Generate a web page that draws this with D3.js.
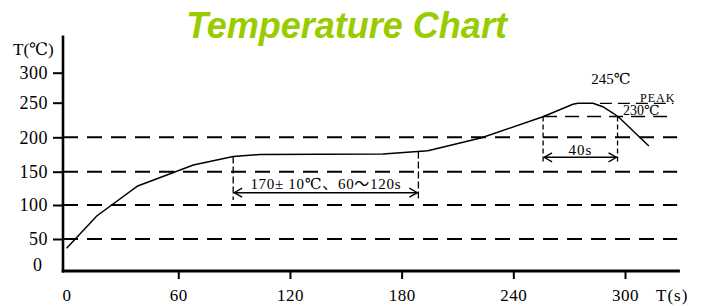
<!DOCTYPE html>
<html>
<head>
<meta charset="utf-8">
<script src="https://cdn.jsdelivr.net/npm/d3@7"></script>
<style>
  body { margin: 0; background: #fff; }
  svg { display: block; }
  .serif { font-family: "Liberation Serif", "DejaVu Serif", "Noto Sans CJK SC", serif; fill: #000; }
</style>
</head>
<body>
<svg id="chart" width="710" height="306"></svg>
<script>
// ---- data ----
const timeS   = [0, 16.2, 38.2, 68.1, 89.5, 103.9, 170, 194.1, 223, 255.9, 272, 274.7, 282.8, 288.1, 293.5, 296.7, 312.8];
const tempC   = [35.5, 83.8, 128.5, 159.7, 172.1, 175, 175.7, 180.5, 199.4, 229.8, 247.7, 249.1, 249.1, 244.2, 235.1, 228.9, 187.4];
const xTicks  = [0, 60, 120, 180, 240, 300];
const yTicks  = [0, 50, 100, 150, 200, 250, 300];
const gridTemps = [50, 100, 150, 200];
const soakWindow = [89.5, 189];      // seconds
const soakTempsAt = [172, 179.5];    // curve temperature at window edges
const reflowWindow = [256, 296];     // seconds (40 s above 230)
const reflowLevel = 230;
const peakLevel = 249;
const titleText = "Temperature Chart";
const soakLabel = "170± 10℃、60～120s";

// ---- scales ----
const svg = d3.select("#chart");
const x = d3.scaleLinear().domain([0, 300]).range([66.6, 625]);
const y = d3.scaleLinear().domain(yTicks).range([271, 239, 205, 171.7, 137.3, 102.7, 72.7]);
const axisX0 = x(0) - 3.6;   // y-axis position
const xEnd = 329.5, yTop = 362;

// markers
const defs = svg.append("defs");
defs.append("marker").attr("id", "arr")
  .attr("viewBox", "-10 -6 12 12").attr("refX", 0).attr("refY", 0)
  .attr("markerWidth", 12).attr("markerHeight", 12).attr("markerUnits", "userSpaceOnUse")
  .attr("orient", "auto-start-reverse")
  .append("path").attr("d", "M-8,-4.5 L0,0 L-8,4.5").attr("fill", "none").attr("stroke", "#000").attr("stroke-width", 1.3);

// title
svg.append("text").attr("x", 346.5).attr("y", 38).attr("text-anchor", "middle")
  .style("font-family", '"Liberation Sans", Arial, sans-serif').style("font-weight", "bold").style("font-style", "italic")
  .style("font-size", "36px").attr("fill", "#99cc00").text(titleText);

// grid dashed lines
svg.append("g").selectAll("line").data(gridTemps).join("line")
  .attr("x1", axisX0).attr("x2", x(xEnd - 1.5))
  .attr("y1", d => y(d)).attr("y2", d => y(d))
  .attr("stroke", "#000").attr("stroke-width", 2).attr("stroke-dasharray", "15,9");

// reflow 230 line and peak line
svg.append("line").attr("x1", x(reflowWindow[0])).attr("x2", x(326))
  .attr("y1", y(reflowLevel)).attr("y2", y(reflowLevel))
  .attr("stroke", "#000").attr("stroke-width", 1.6).attr("stroke-dasharray", "14,8");
svg.append("line").attr("x1", x(286.5)).attr("x2", x(326))
  .attr("y1", y(peakLevel)).attr("y2", y(peakLevel))
  .attr("stroke", "#000").attr("stroke-width", 1.4).attr("stroke-dasharray", "12,6");

// axes
const yAxis = d3.axisLeft(y).tickValues(yTicks.filter(d => d > 0)).tickSize(10).tickPadding(5);
const gy = svg.append("g").attr("transform", `translate(${axisX0},0)`).call(yAxis);
gy.select(".domain").remove();
gy.selectAll(".tick line").attr("stroke-width", 2);
gy.selectAll(".tick text").attr("class", "serif").style("font-size", "18px").style("letter-spacing", "0.5px").attr("fill", "#000");
gy.append("g").attr("class", "tick").append("text").attr("class", "serif")
  .attr("x", -21).attr("y", y(0) - 6).attr("dy", "0.32em").attr("text-anchor", "end")
  .style("font-size", "18px").text("0");

const xAxis = d3.axisBottom(x).tickValues(xTicks).tickSize(8).tickFormat(d3.format("d"));
const gx = svg.append("g").attr("transform", `translate(0,${y(0)})`).call(xAxis);
gx.select(".domain").remove();
gx.selectAll(".tick line").attr("stroke-width", 2).filter(d => d === 0).remove();
gx.selectAll(".tick text").attr("class", "serif").style("font-size", "17px").style("letter-spacing", "0.5px")
  .attr("y", 30).attr("dy", 0).attr("fill", "#000");

svg.append("line").attr("x1", axisX0).attr("x2", axisX0).attr("y1", y(0) + 1.5).attr("y2", y(yTop))
  .attr("stroke", "#000").attr("stroke-width", 2.6);
svg.append("line").attr("x1", axisX0 - 1.3).attr("x2", x(xEnd)).attr("y1", y(0)).attr("y2", y(0))
  .attr("stroke", "#000").attr("stroke-width", 2.8);

// axis titles
svg.append("text").attr("class", "serif").attr("x", 13).attr("y", 55).style("font-size", "17px").text("T(℃)");
svg.append("text").attr("class", "serif").attr("x", 656).attr("y", 301).style("font-size", "17px")
  .style("letter-spacing", "1px").text("T(s)");

// curve
const pts = timeS.map((t, i) => [t, tempC[i]]);
svg.append("path").datum(pts)
  .attr("d", d3.line().x(d => x(d[0])).y(d => y(d[1])))
  .attr("fill", "none").attr("stroke", "#000").attr("stroke-width", 1.5);

// soak window annotation
const soakBottom = 107.5, soakArrow = 118.5;
soakWindow.forEach((t, i) => {
  svg.append("line").attr("x1", x(t)).attr("x2", x(t))
    .attr("y1", y(soakTempsAt[i])).attr("y2", y(soakBottom))
    .attr("stroke", "#000").attr("stroke-width", 1.3).attr("stroke-dasharray", "7,3");
});
svg.append("line").attr("x1", x(soakWindow[0]) + 1).attr("x2", x(soakWindow[1]) - 1)
  .attr("y1", y(soakArrow)).attr("y2", y(soakArrow))
  .attr("stroke", "#000").attr("stroke-width", 1.4)
  .attr("marker-start", "url(#arr)").attr("marker-end", "url(#arr)");
svg.append("text").attr("class", "serif").attr("x", x((soakWindow[0] + soakWindow[1]) / 2))
  .attr("y", 188.5).attr("text-anchor", "middle").style("font-size", "15px").style("letter-spacing", "0.7px").text(soakLabel);

// reflow window annotation
const reflowBottom = 164, reflowArrow = 170.9;
reflowWindow.forEach(t => {
  svg.append("line").attr("x1", x(t)).attr("x2", x(t))
    .attr("y1", y(reflowLevel)).attr("y2", y(reflowBottom))
    .attr("stroke", "#000").attr("stroke-width", 1.3).attr("stroke-dasharray", "5,3");
});
svg.append("line").attr("x1", x(reflowWindow[0]) + 1).attr("x2", x(reflowWindow[1]) - 1)
  .attr("y1", y(reflowArrow)).attr("y2", y(reflowArrow))
  .attr("stroke", "#000").attr("stroke-width", 1.4)
  .attr("marker-start", "url(#arr)").attr("marker-end", "url(#arr)");
svg.append("text").attr("class", "serif").attr("x", x((reflowWindow[0] + reflowWindow[1]) / 2))
  .attr("y", 155).attr("text-anchor", "middle").style("font-size", "15px").style("letter-spacing", "1px").text("40s");

// peak labels
svg.append("text").attr("class", "serif").attr("x", 611).attr("y", 84).attr("text-anchor", "middle")
  .style("font-size", "15px").text("245℃");
svg.append("text").attr("class", "serif").attr("x", 640).attr("y", 101.5)
  .style("font-size", "12px").style("letter-spacing", "1px").text("PEAK");
svg.append("text").attr("class", "serif").attr("x", 623).attr("y", 115)
  .style("font-size", "14px").text("230℃");
</script>
</body>
</html>
